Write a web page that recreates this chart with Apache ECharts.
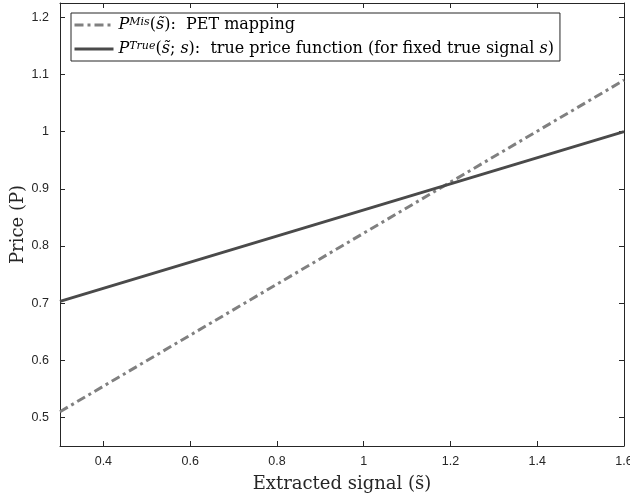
<!DOCTYPE html>
<html>
<head>
<meta charset="utf-8">
<script src="https://cdn.jsdelivr.net/npm/echarts@6/dist/echarts.min.js"></script>
<style>html,body{margin:0;padding:0;background:#fff}#c{width:630px;height:496px}</style>
</head>
<body>
<div id="c"></div>
<script>
var xValues = [0.3, 1.6];
var misValues = [0.51, 1.09];
var trueValues = [0.703, 1.0];
var xTicks = [0.4, 0.6, 0.8, 1.0, 1.2, 1.4, 1.6];
var yTicks = [0.5, 0.6, 0.7, 0.8, 0.9, 1.0, 1.1, 1.2];

var chart = echarts.init(document.getElementById('c'), null, {renderer: 'canvas'});
var axisColor = '#262626';
var serif = '"DejaVu Serif", "Liberation Serif", serif';
var sans = '"Liberation Sans", Arial, sans-serif';

function fmtTick(v) { return String(Math.round(v * 10) / 10); }

var richText = {
  n: {fontFamily: serif, fontSize: 16, color: '#000'},
  i: {fontFamily: serif, fontSize: 16, fontStyle: 'italic', color: '#000'},
  sup: {fontFamily: serif, fontSize: 11, fontStyle: 'italic', color: '#000', verticalAlign: 'top'}
};

chart.setOption({
  animation: false,
  backgroundColor: '#fff',
  grid: {left: 60, right: 6, top: 3, bottom: 50, containLabel: false, outerBoundsMode: 'none'},
  legend: {
    orient: 'vertical',
    left: 71, top: 13,
    padding: [4, 6, 4, 2],
    itemWidth: 39, itemHeight: 14,
    itemGap: 8,
    backgroundColor: '#fff',
    borderColor: axisColor, borderWidth: 1,
    data: ['mis', 'true'],
    itemStyle: {color: 'transparent', borderWidth: 0},
    lineStyle: {width: 3},
    formatter: function (name) {
      if (name === 'mis') return '{i|P}{sup|Mis}{n|(}{i|s̃}{n|):  PET mapping}';
      return '{i|P}{sup|True}{n|(}{i|s̃}{n|; }{i|s}{n|):  true price function (for fixed true signal }{i|s}{n|)}';
    },
    textStyle: {rich: richText}
  },
  xAxis: [{
    type: 'value', min: 0.3, max: 1.6, position: 'bottom',
    name: 'Extracted signal (s̃)', nameLocation: 'middle', nameGap: 29,
    nameTextStyle: {fontFamily: serif, fontSize: 18, color: '#262626'},
    axisLine: {show: true, onZero: false, lineStyle: {color: axisColor, width: 1}},
    axisTick: {show: true, inside: true, length: 5, customValues: xTicks, lineStyle: {color: axisColor}},
    axisLabel: {show: true, customValues: xTicks, margin: 9, fontFamily: sans, fontSize: 12.5, color: '#262626', formatter: fmtTick},
    splitLine: {show: false}
  }, {
    type: 'value', min: 0.3, max: 1.6, position: 'top',
    axisLine: {show: true, onZero: false, lineStyle: {color: axisColor, width: 1}},
    axisTick: {show: true, inside: true, length: 5, customValues: xTicks, lineStyle: {color: axisColor}},
    axisLabel: {show: false},
    splitLine: {show: false}
  }],
  yAxis: [{
    type: 'value', min: 0.45, max: 1.225, position: 'left',
    name: 'Price (P)', nameLocation: 'middle', nameGap: 33, nameRotate: 90, nameMoveOverlap: false,
    nameTextStyle: {fontFamily: serif, fontSize: 18, color: '#262626'},
    axisLine: {show: true, onZero: false, lineStyle: {color: axisColor, width: 1}},
    axisTick: {show: true, inside: true, length: 5, customValues: yTicks, lineStyle: {color: axisColor}},
    axisLabel: {show: true, customValues: yTicks, margin: 11, fontFamily: sans, fontSize: 12.5, color: '#262626', formatter: fmtTick},
    splitLine: {show: false}
  }, {
    type: 'value', min: 0.45, max: 1.225, position: 'right',
    axisLine: {show: true, onZero: false, lineStyle: {color: axisColor, width: 1}},
    axisTick: {show: true, inside: true, length: 5, customValues: yTicks, lineStyle: {color: axisColor}},
    axisLabel: {show: false},
    splitLine: {show: false}
  }],
  series: [{
    name: 'mis', type: 'line', showSymbol: false, symbol: 'none',
    data: xValues.map(function (x, k) { return [x, misValues[k]]; }),
    lineStyle: {color: '#808080', width: 3, type: [9, 4, 3, 4]},
    itemStyle: {color: '#808080'}
  }, {
    name: 'true', type: 'line', showSymbol: false, symbol: 'none',
    data: xValues.map(function (x, k) { return [x, trueValues[k]]; }),
    lineStyle: {color: '#4a4a4a', width: 3, type: 'solid'},
    itemStyle: {color: '#4a4a4a'}
  }]
});
</script>
</body>
</html>
